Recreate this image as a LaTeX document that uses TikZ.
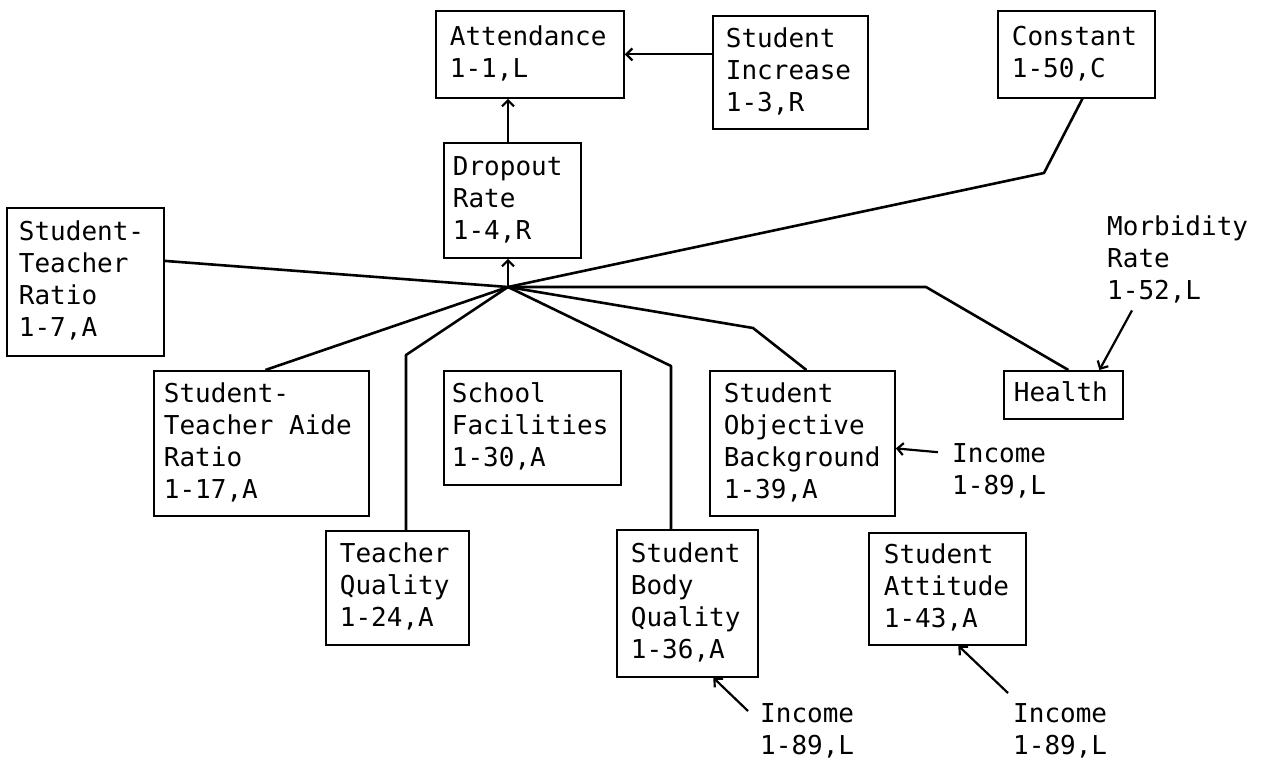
\documentclass[tikz,border=0pt]{standalone}
\usepackage{fontspec}
\newfontfamily\tw{DejaVu Sans Mono}
\usetikzlibrary{arrows.meta}
\newcommand\sx{\rule[-6pt]{0pt}{26pt}}
\newcommand\msp{\hspace*{0.6021em}}
\begin{document}
\begin{tikzpicture}[x=1pt,y=-1pt,
  box/.style={draw, line width=1.8pt, anchor=north west, align=left, inner ysep=0pt,
    font=\tw\fontsize{26}{32}\selectfont,
    execute at begin node={\hyphenpenalty=10000 \exhyphenpenalty=10000}},
  txt/.style={anchor=north west, align=left, inner sep=0pt,
    font=\tw\fontsize{26}{32}\selectfont},
  con/.style={line width=2.6pt, line join=round},
  arr/.style={line width=2.2pt, -{Straight Barb[length=6pt,width=12pt]}}]
\fill[white] (0,0) rectangle (1267,770);
\useasboundingbox (0,0) rectangle (1267,770);

% boxes
\node[box, inner xsep=14pt, text width=160pt, minimum height=87pt] (att) at (435,10) {\sx Attendance\\\sx 1-1,L};
\node[box, inner xsep=13pt, text width=129pt, minimum height=113pt] (si) at (712,15) {\sx Student\\\sx Increase\\\sx 1-3,R};
\node[box, inner xsep=9pt, text width=119pt, minimum height=115pt] (drop) at (443,142) {\sx Dropout\\\sx Rate\\\sx 1-4,R};
\node[box, inner xsep=14pt, text width=129pt, minimum height=87pt] (const) at (997,10) {\sx Constant\\\sx 1-50,C};
\node[box, inner xsep=12pt, text width=133pt, minimum height=148pt] (str) at (6,207) {\sx Student-\\\sx Teacher\\\sx Ratio\\\sx 1-7,A};
\node[box, inner xsep=10pt, text width=195pt, minimum height=145pt] (star) at (153,370) {\sx Student-\\\sx Teacher\msp Aide\\\sx Ratio\\\sx 1-17,A};
\node[box, inner xsep=14pt, text width=115pt, minimum height=114pt] (tq) at (325,530) {\sx Teacher\\\sx Quality\\\sx 1-24,A};
\node[box, inner xsep=8pt, text width=161pt, minimum height=114pt] (sf) at (443,370) {\sx School\\\sx Facilities\\\sx 1-30,A};
\node[box, inner xsep=14pt, text width=113pt, minimum height=147pt] (sbq) at (616,529) {\sx Student\\\sx Body\\\sx Quality\\\sx 1-36,A};
\node[box, inner xsep=14pt, text width=157pt, minimum height=145pt] (sob) at (709,370) {\sx Student\\\sx Objective\\\sx Background\\\sx 1-39,A};
\node[box, inner xsep=10pt, text width=99pt, minimum height=48pt] (health) at (1003,370) {\sx Health};
\node[box, inner xsep=15pt, text width=127pt, minimum height=112pt] (sa) at (868,532) {\sx Student\\\sx Attitude\\\sx 1-43,A};

% free texts
\node[txt] (morb) at (1107,215) {\sx Morbidity\\\sx Rate\\\sx 1-52,L};
\node[txt] (inc1) at (952,442) {\sx Income\\\sx 1-89,L};
\node[txt] (inc2) at (760,702) {\sx Income\\\sx 1-89,L};
\node[txt] (inc3) at (1013,702) {\sx Income\\\sx 1-89,L};

% junction and bends
\coordinate (hub) at (508,287);
\coordinate (cb) at (1044,173);
\coordinate (tqb) at (406,355);
\coordinate (sbqb) at (671,366);
\coordinate (sobb) at (753,328);
\coordinate (hb) at (926,287);

% connectors
\draw[arr] (si.west |- att.east) -- (att.east);
\draw[arr] (hub |- drop.north) -- (hub |- att.south);
\draw[arr] (hub) -- (hub |- drop.south);
\draw[con] ([yshift=21pt]str.east) -- (hub);
\draw[con] ([xshift=4pt]star.north) -- (hub);
\draw[con] (tq.north -| tqb) -- (tqb) -- (hub);
\draw[con] (sbq.north -| sbqb) -- (sbqb) -- (hub);
\draw[con] ([xshift=4pt]sob.north) -- (sobb) -- (hub);
\draw[con] ([xshift=5pt]health.north) -- (hb) -- (hub);
\draw[con] ([xshift=6pt]const.south) -- (cb) -- (hub);
\draw[arr] ([shift={(-14pt,19pt)}]inc1.west) -- ([yshift=-5pt]sob.east);
\draw[arr] ([shift={(25pt,-5pt)}]morb.south west) -- ([xshift=36pt]health.north);
\draw[arr] ([shift={(-12pt,-9pt)}]inc2.north west) -- ([xshift=26pt]sbq.south);
\draw[arr] ([shift={(-5pt,9pt)}]inc3.north west) -- ([xshift=11pt]sa.south);
\end{tikzpicture}
\end{document}
